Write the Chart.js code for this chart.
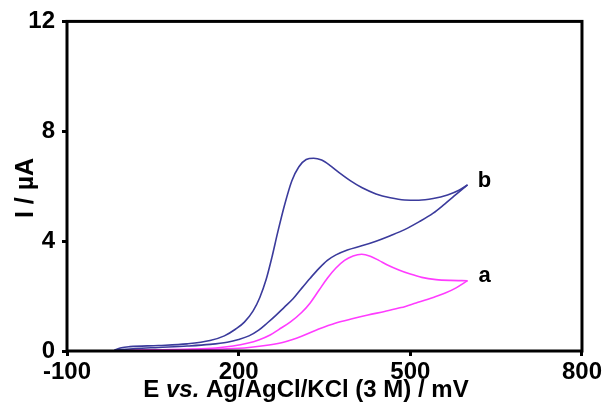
<!DOCTYPE html>
<html>
<head>
<meta charset="utf-8">
<script src="https://cdn.jsdelivr.net/npm/chart.js@4.4.1/dist/chart.umd.min.js"></script>
<style>
    html, body { margin: 0; padding: 0; background: #fff; }
    #wrap { width: 604px; height: 416px; }
</style>
</head>
<body>
<div id="wrap"><canvas id="cvChart" width="604" height="416"></canvas></div>
<script>
// Кривая b — прямой и обратный ход (E, мВ / I, мкА)
const bFwdE = [-17, -5, 10, 60, 110, 150, 175, 195, 210, 225, 237, 248, 258, 268, 280, 293, 305, 318, 331, 345, 360, 375, 395, 415, 440, 465, 490, 515, 540, 565, 585, 600];
const bFwdI = [0.03, 0.12, 0.16, 0.2, 0.26, 0.38, 0.55, 0.8, 1.05, 1.45, 1.95, 2.6, 3.4, 4.3, 5.3, 6.2, 6.7, 6.97, 7.02, 6.95, 6.75, 6.5, 6.2, 5.95, 5.72, 5.58, 5.5, 5.49, 5.55, 5.68, 5.85, 6.05];
const bRevE = [600, 580, 560, 540, 515, 490, 465, 440, 415, 390, 370, 355, 340, 325, 310, 295, 280, 265, 250, 235, 218, 200, 180, 150, 110, 60, 20, -17];
const bRevI = [6.05, 5.7, 5.35, 5.02, 4.7, 4.42, 4.2, 4.0, 3.83, 3.68, 3.5, 3.3, 3.0, 2.65, 2.28, 1.9, 1.6, 1.3, 1.02, 0.76, 0.55, 0.42, 0.32, 0.24, 0.18, 0.13, 0.09, 0.03];

// Кривая a
const aFwdE = [-17, 50, 120, 160, 190, 215, 235, 255, 270, 290, 310, 325, 340, 355, 370, 385, 400, 415, 430, 445, 460, 480, 500, 520, 545, 570, 600];
const aFwdI = [0.02, 0.04, 0.07, 0.11, 0.18, 0.28, 0.4, 0.58, 0.78, 1.05, 1.4, 1.75, 2.2, 2.65, 3.02, 3.3, 3.46, 3.52, 3.45, 3.3, 3.13, 2.95, 2.8, 2.68, 2.6, 2.57, 2.56];
const aRevE = [600, 580, 560, 540, 510, 484, 455, 426, 400, 370, 340, 310, 280, 253, 218, 180, 120, 50, -17];
const aRevI = [2.56, 2.3, 2.1, 1.95, 1.75, 1.58, 1.44, 1.31, 1.18, 1.02, 0.8, 0.54, 0.33, 0.22, 0.13, 0.08, 0.05, 0.03, 0.02];

// Деления осей
const xTicks = [-100, 200, 500, 800];
const yTicks = [0, 4, 8, 12];

// Подписи кривых
const curveLabels = ['b', 'a'];
const curveLabelE = [618, 619];
const curveLabelI = [5.96, 2.51];

const blue = '#3b3b9c';
const magenta = '#ff3cff';
const fontFamily = '"Liberation Sans", Arial, sans-serif';

function toPoints(xs, ys) {
    return xs.map((x, i) => ({ x: x, y: ys[i] }));
}

function lineSet(xs, ys, color) {
    return {
        data: toPoints(xs, ys),
        borderColor: color,
        borderWidth: 1.6,
        pointRadius: 0,
        showLine: true,
        cubicInterpolationMode: 'monotone',
        fill: false
    };
}

// Рамка, подписи осей и кривых
const framePlugin = {
    id: 'frame',
    afterDraw(chart) {
        const ctx = chart.ctx;
        const a = chart.chartArea;
        const xs = chart.scales.x;
        const ys = chart.scales.y;
        ctx.save();
        ctx.strokeStyle = '#000';
        ctx.lineWidth = 3;
        ctx.strokeRect(a.left, a.top, a.right - a.left, a.bottom - a.top);

        // подписи a / b
        ctx.fillStyle = '#000';
        ctx.font = 'bold 22px ' + fontFamily;
        ctx.textAlign = 'left';
        ctx.textBaseline = 'alphabetic';
        curveLabels.forEach((t, i) => {
            ctx.fillText(t, xs.getPixelForValue(curveLabelE[i]), ys.getPixelForValue(curveLabelI[i]));
        });

        // заголовок оси X, "vs." курсивом
        const parts = [
            ['E ', 'bold 24px ' + fontFamily],
            ['vs.', 'italic bold 24px ' + fontFamily],
            [' Ag/AgCl/KCl (3 M) / mV', 'bold 24px ' + fontFamily]
        ];
        let total = 0;
        parts.forEach(p => { ctx.font = p[1]; total += ctx.measureText(p[0]).width; });
        let x = 306 - total / 2;
        parts.forEach(p => {
            ctx.font = p[1];
            ctx.fillText(p[0], x, 397);
            x += ctx.measureText(p[0]).width;
        });

        // заголовок оси Y
        ctx.translate(33, 188);
        ctx.rotate(-Math.PI / 2);
        ctx.textAlign = 'center';
        ctx.font = 'bold 25px ' + fontFamily;
        ctx.fillText('I / \u00B5A', 0, 0);
        ctx.restore();
    }
};

const tickFont = { family: fontFamily, size: 24, weight: 'bold' };

const cvChart = new Chart(
    document.getElementById('cvChart'),
    {
        type: 'scatter',
        data: {
            datasets: [
                lineSet(bFwdE, bFwdI, blue),
                lineSet(bRevE, bRevI, blue),
                lineSet(aFwdE, aFwdI, magenta),
                lineSet(aRevE, aRevI, magenta)
            ]
        },
        options: {
            responsive: false,
            animation: false,
            layout: { padding: { top: 21, right: 19, left: 0, bottom: 0 } },
            plugins: {
                legend: { display: false },
                tooltip: { enabled: false }
            },
            scales: {
                x: {
                    type: 'linear',
                    min: -100,
                    max: 800,
                    afterFit: s => { s.height = 65; },
                    afterBuildTicks: s => { s.ticks = xTicks.map(v => ({ value: v })); },
                    border: { display: false },
                    grid: {
                        drawOnChartArea: false,
                        drawTicks: true,
                        tickLength: 5,
                        lineWidth: 3,
                        color: '#000'
                    },
                    ticks: {
                        color: '#000',
                        font: tickFont,
                        padding: 2,
                        maxRotation: 0
                    }
                },
                y: {
                    min: 0,
                    max: 12,
                    afterFit: s => { s.width = 67; },
                    afterBuildTicks: s => { s.ticks = yTicks.map(v => ({ value: v })); },
                    border: { display: false },
                    grid: {
                        drawOnChartArea: false,
                        drawTicks: true,
                        tickLength: 5,
                        lineWidth: 3,
                        color: '#000'
                    },
                    ticks: {
                        color: '#000',
                        font: tickFont,
                        padding: 7
                    }
                }
            }
        },
        plugins: [framePlugin]
    }
);
</script>
</body>
</html>
